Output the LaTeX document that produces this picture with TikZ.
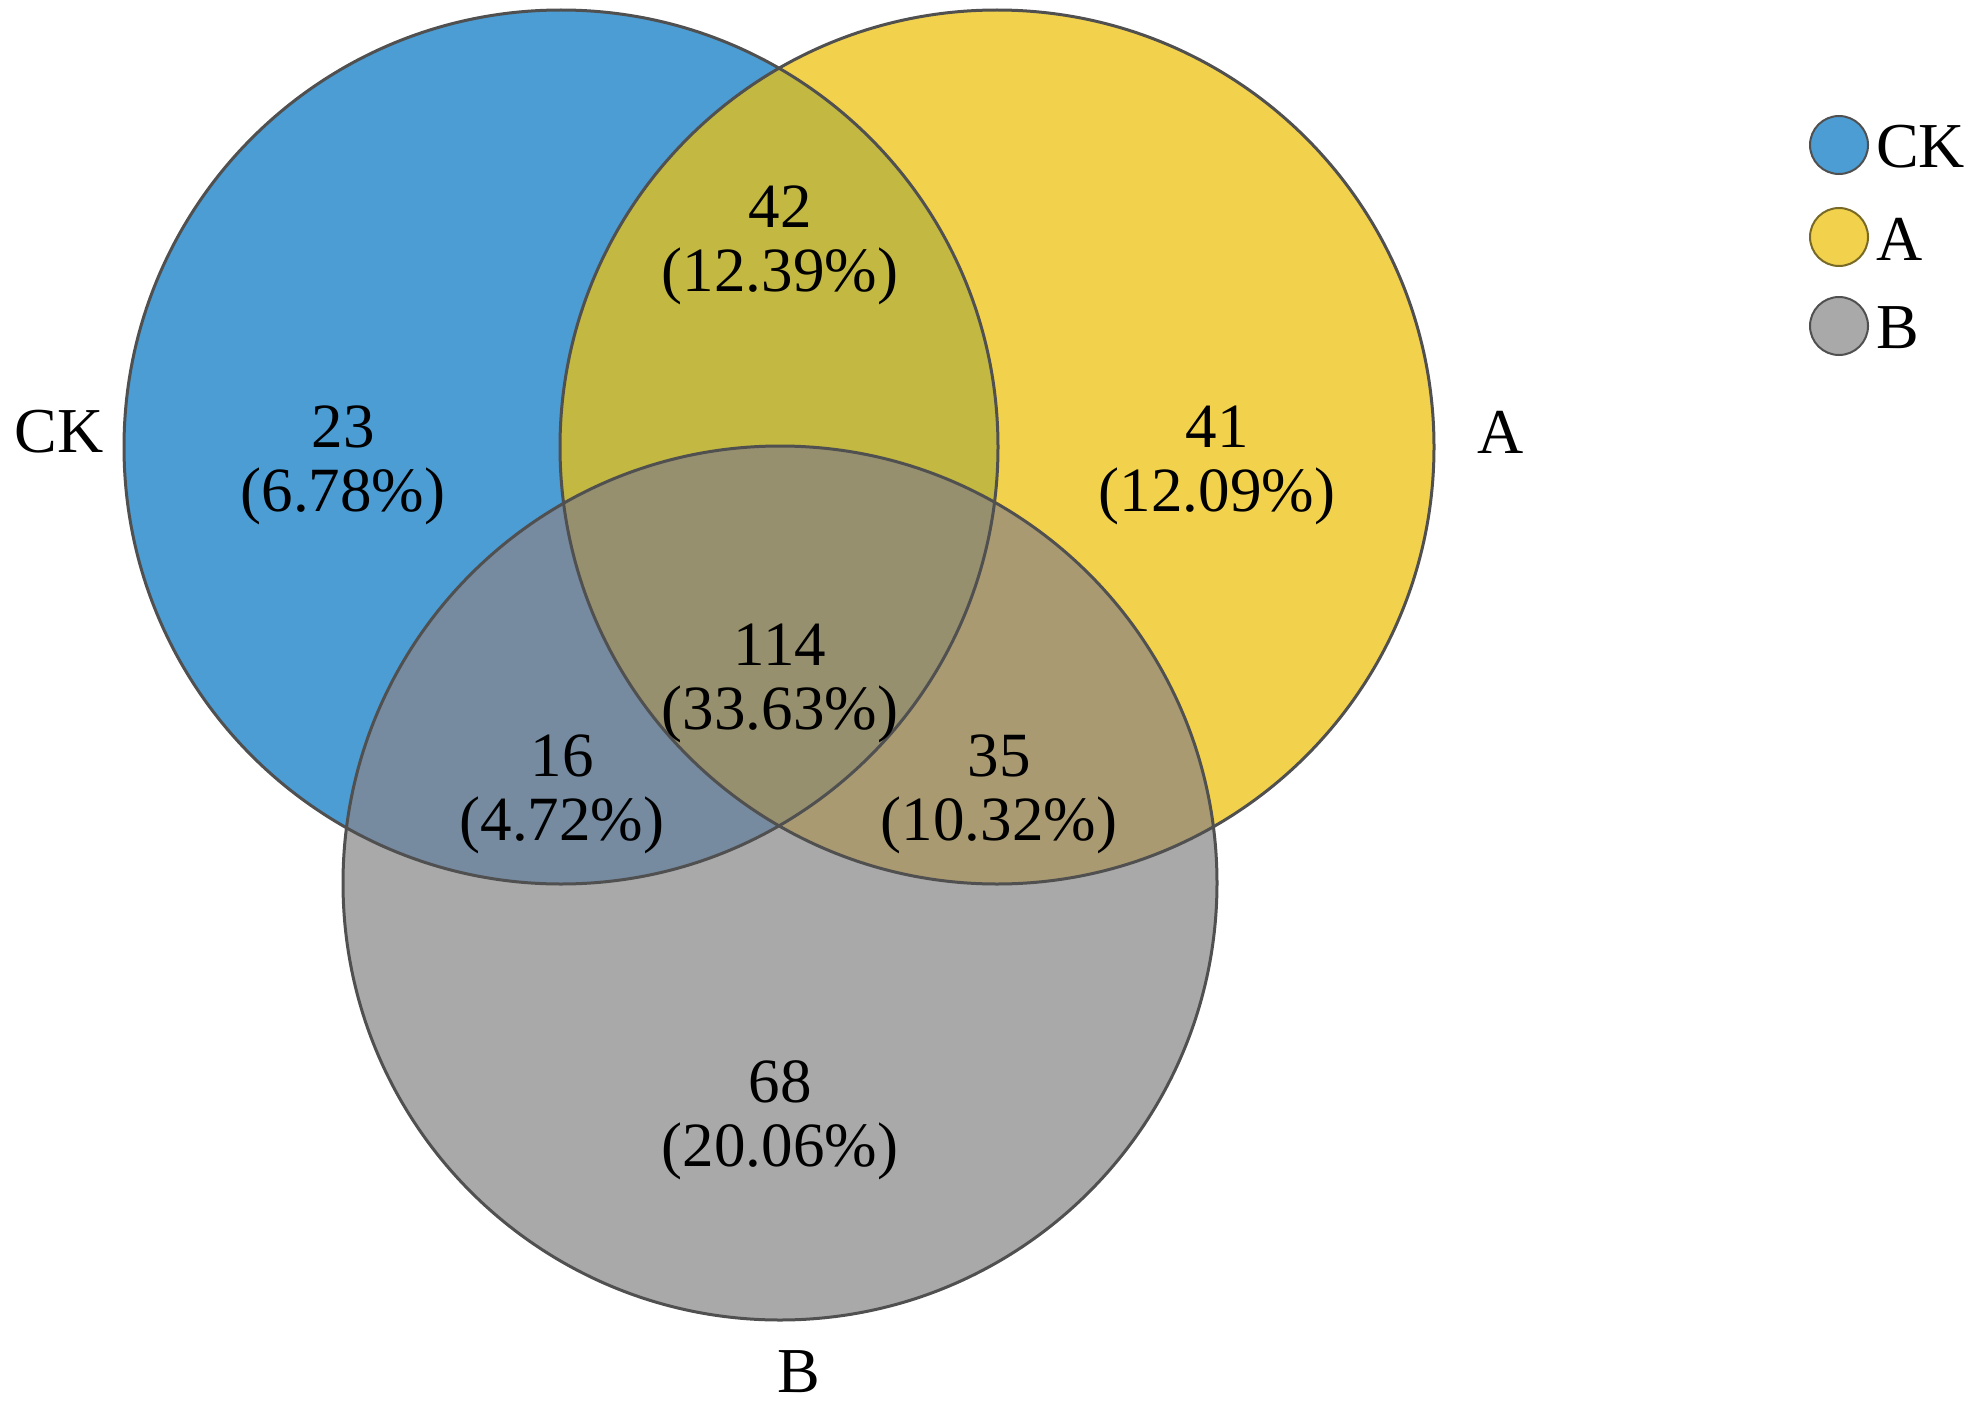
\documentclass[tikz,border=0pt]{standalone}
\usepackage{fontspec}
\setmainfont{Liberation Serif}
\definecolor{ckc}{RGB}{75,157,212}
\definecolor{ac}{RGB}{242,210,76}
\definecolor{bc}{RGB}{169,169,169}
\definecolor{ckac}{RGB}{194,184,66}
\definecolor{ckbc}{RGB}{118,138,160}
\definecolor{abc}{RGB}{169,154,114}
\definecolor{allc}{RGB}{151,144,111}
\definecolor{edgec}{RGB}{80,80,80}
\begin{document}
\begin{tikzpicture}[x=1pt,y=-1pt,
  lbl/.style={align=center,font=\fontsize{63}{64}\selectfont,inner sep=0pt},
  side/.style={font=\fontsize{64}{66}\selectfont,inner sep=0pt},
  outline/.style={draw=edgec,line width=3pt},
  legdot/.style={circle,minimum size=58pt,inner sep=0pt,draw=edgec,line width=2pt}]
\useasboundingbox (0,0) rectangle (1983,1418);
\def\R{437}
\coordinate (ck) at (561,447);
\coordinate (a) at (997,447);
\coordinate (b) at (780,883);
% base fills
\fill[ckc] (ck) circle (\R);
\fill[ac] (a) circle (\R);
\fill[bc] (b) circle (\R);
\begin{scope}\clip (ck) circle (\R); \fill[ckac] (a) circle (\R); \end{scope}
\begin{scope}\clip (ck) circle (\R); \fill[ckbc] (b) circle (\R); \end{scope}
\begin{scope}\clip (a) circle (\R); \fill[abc] (b) circle (\R); \end{scope}
\begin{scope}\clip (ck) circle (\R); \clip (a) circle (\R); \fill[allc] (b) circle (\R); \end{scope}
% outlines
\draw[outline] (ck) circle (\R);
\draw[outline] (a) circle (\R);
\draw[outline] (b) circle (\R);
% region labels
\node[lbl] (n23) at (343,465) {23\\(6.78\%)};
\node[lbl] (n42) at (780,245) {42\\(12.39\%)};
\node[lbl] (n41) at (1217,465) {41\\(12.09\%)};
\node[lbl] (n114) at (780,683) {114\\(33.63\%)};
\node[lbl] (n16) at (562,794) {16\\(4.72\%)};
\node[lbl] (n35) at (999,794) {35\\(10.32\%)};
\node[lbl] (n68) at (780,1120) {68\\(20.06\%)};
% set labels
\node[side] (lck) at (59,432) {CK};
\node[side] (la) at (1501,432) {A};
\node[side] (lb) at (799,1372) {B};
% legend
\node[legdot,fill=ckc] (dck) at (1839,145) {};
\node[legdot,fill=ac,draw=ac!50!black] (da) at (1839,237) {};
\node[legdot,fill=bc] (db) at (1839,326) {};
\node[side,anchor=west] (tck) at (1876,147) {CK};
\node[side,anchor=west] (ta) at (1876,239) {A};
\node[side,anchor=west] (tb) at (1876,328) {B};
\end{tikzpicture}
\end{document}
